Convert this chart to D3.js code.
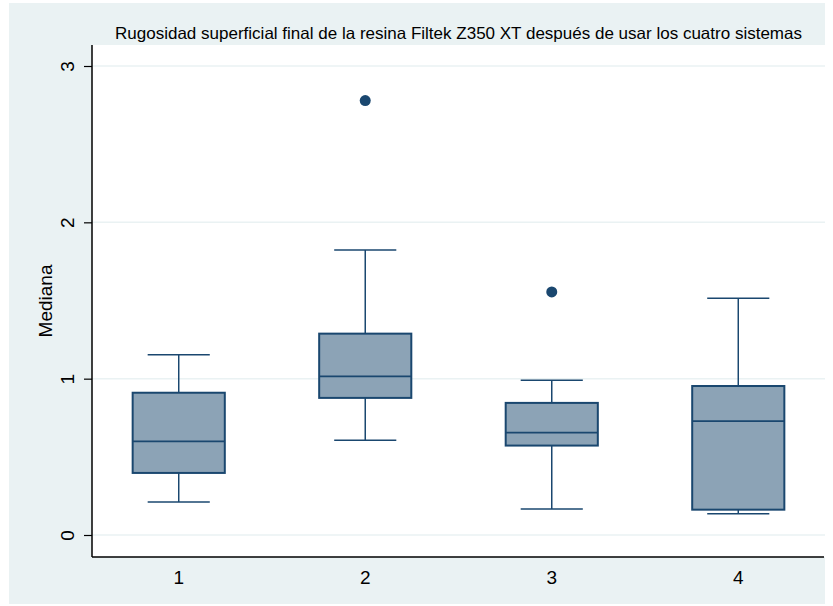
<!DOCTYPE html>
<html>
<head>
<meta charset="utf-8">
<script src="https://cdn.jsdelivr.net/npm/d3@7"></script>
<style>
	body { margin: 0; background: #fff; }
	text { font-family: "Liberation Sans", Arial, sans-serif; }
</style>
</head>
<body>
<svg id="chart" width="833" height="606"></svg>
<script>
const categories = ['1', '2', '3', '4'];
const lowerWhisker = [0.211, 0.606, 0.166, 0.136];
const q1 = [0.397, 0.877, 0.572, 0.162];
const median = [0.599, 1.015, 0.655, 0.729];
const q3 = [0.910, 1.288, 0.845, 0.953];
const upperWhisker = [1.153, 1.823, 0.990, 1.514];
const outliers = [[], [2.779], [1.555], []];
const yTicks = [0, 1, 2, 3];

const navy = '#1a476f';
const svg = d3.select('#chart');

// outer graph region
svg.append('rect')
	.attr('x', 9).attr('y', 3)
	.attr('width', 816).attr('height', 601)
	.attr('fill', '#eaf2f3');

const plot = {left: 92, right: 825, top: 45, bottom: 557};

svg.append('rect')
	.attr('x', plot.left).attr('y', plot.top)
	.attr('width', plot.right - plot.left)
	.attr('height', plot.bottom - plot.top)
	.attr('fill', '#fff');

const x = d3.scalePoint()
	.domain(categories)
	.range([plot.left, plot.right])
	.padding(0.465);

const y = d3.scaleLinear()
	.domain([0, 3])
	.range([535, 66]);

const step = x.step();
const boxW = step * 0.494;
const capW = step * 0.333;

// grid
svg.append('g')
	.selectAll('line')
	.data(yTicks)
	.join('line')
	.attr('x1', plot.left).attr('x2', plot.right)
	.attr('y1', d => y(d)).attr('y2', d => y(d))
	.attr('stroke', '#eaf2f3')
	.attr('stroke-width', 1.5);

const boxes = categories.map((c, i) => ({
	c,
	lo: lowerWhisker[i],
	q1: q1[i],
	med: median[i],
	q3: q3[i],
	hi: upperWhisker[i],
	out: outliers[i]
}));

const g = svg.append('g');

// whiskers
g.selectAll('line.whisker')
	.data(boxes.flatMap(b => [[b.c, b.q3, b.hi], [b.c, b.q1, b.lo]]))
	.join('line')
	.attr('class', 'whisker')
	.attr('x1', d => x(d[0])).attr('x2', d => x(d[0]))
	.attr('y1', d => y(d[1])).attr('y2', d => y(d[2]))
	.attr('stroke', navy)
	.attr('stroke-width', 1.5);

// caps
g.selectAll('line.cap')
	.data(boxes.flatMap(b => [[b.c, b.hi], [b.c, b.lo]]))
	.join('line')
	.attr('class', 'cap')
	.attr('x1', d => x(d[0]) - capW / 2).attr('x2', d => x(d[0]) + capW / 2)
	.attr('y1', d => y(d[1])).attr('y2', d => y(d[1]))
	.attr('stroke', navy)
	.attr('stroke-width', 1.5);

// boxes
g.selectAll('rect.box')
	.data(boxes)
	.join('rect')
	.attr('class', 'box')
	.attr('x', d => x(d.c) - boxW / 2)
	.attr('y', d => y(d.q3))
	.attr('width', boxW)
	.attr('height', d => y(d.q1) - y(d.q3))
	.attr('fill', '#8ca3b6')
	.attr('stroke', navy)
	.attr('stroke-width', 2);

// medians
g.selectAll('line.median')
	.data(boxes)
	.join('line')
	.attr('class', 'median')
	.attr('x1', d => x(d.c) - boxW / 2).attr('x2', d => x(d.c) + boxW / 2)
	.attr('y1', d => y(d.med)).attr('y2', d => y(d.med))
	.attr('stroke', navy)
	.attr('stroke-width', 1.8);

// outside values
g.selectAll('circle')
	.data(boxes.flatMap(b => b.out.map(v => [b.c, v])))
	.join('circle')
	.attr('cx', d => x(d[0]))
	.attr('cy', d => y(d[1]))
	.attr('r', 5.5)
	.attr('fill', navy);

// y axis
const yAxis = svg.append('g')
	.attr('transform', `translate(${plot.left},0)`)
	.call(d3.axisLeft(y).tickValues(yTicks).tickSize(8).tickFormat(d3.format('d')));
yAxis.select('.domain').remove();
yAxis.selectAll('.tick line').attr('stroke', '#000').attr('stroke-width', 1.2);
yAxis.selectAll('.tick text')
	.attr('transform', 'rotate(-90)')
	.attr('x', 0).attr('y', -18)
	.attr('dy', 0)
	.attr('text-anchor', 'middle')
	.attr('font-size', 19)
	.attr('fill', '#000');

// x axis labels (no ticks)
svg.append('g')
	.selectAll('text')
	.data(categories)
	.join('text')
	.attr('x', d => x(d))
	.attr('y', 584)
	.attr('text-anchor', 'middle')
	.attr('font-size', 19)
	.text(d => d);

// axis lines
svg.append('line')
	.attr('x1', plot.left).attr('x2', plot.left)
	.attr('y1', plot.top).attr('y2', plot.bottom)
	.attr('stroke', '#000').attr('stroke-width', 1.5);
svg.append('line')
	.attr('x1', plot.left).attr('x2', plot.right - 1)
	.attr('y1', plot.bottom).attr('y2', plot.bottom)
	.attr('stroke', '#000').attr('stroke-width', 1.5);

svg.append('text')
	.attr('transform', `translate(52,${(plot.top + plot.bottom) / 2}) rotate(-90)`)
	.attr('text-anchor', 'middle')
	.attr('font-size', 19)
	.text('Mediana');

svg.append('text')
	.attr('x', (plot.left + plot.right) / 2)
	.attr('y', 39)
	.attr('text-anchor', 'middle')
	.attr('font-size', 16.5)
	.attr('textLength', 687)
	.attr('lengthAdjust', 'spacingAndGlyphs')
	.text('Rugosidad superficial final de la resina Filtek Z350 XT después de usar los cuatro sistemas');
</script>
</body>
</html>
